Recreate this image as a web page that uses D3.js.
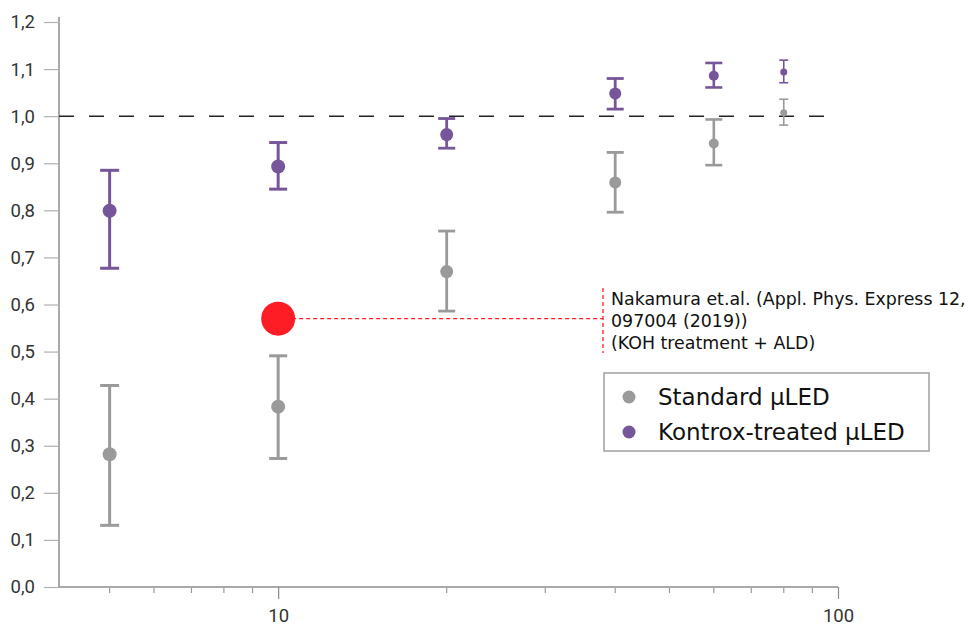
<!DOCTYPE html>
<html>
<head>
<meta charset="utf-8">
<script src="https://cdn.jsdelivr.net/npm/d3@7"></script>
<style>
  body { margin: 0; background: #fff; }
  .note, .legend-label { font-family: "DejaVu Sans", sans-serif; }
  .tick text { font-family: Roboto, sans-serif; }
</style>
</head>
<body>
<div id="container"></div>
<script>
const w = 970;
const h = 628;

// data
const xValues = [5, 10, 20, 40, 60, 80];
const standardMean = [0.282, 0.383, 0.670, 0.859, 0.942, 1.007];
const standardLow = [0.131, 0.273, 0.586, 0.796, 0.896, 0.981];
const standardHigh = [0.428, 0.491, 0.756, 0.923, 0.993, 1.036];
const kontroxMean = [0.799, 0.893, 0.961, 1.048, 1.086, 1.094];
const kontroxLow = [0.677, 0.845, 0.932, 1.015, 1.061, 1.071];
const kontroxHigh = [0.885, 0.944, 0.995, 1.080, 1.113, 1.119];
const referenceX = [10];
const referenceY = [0.570];
const yTicks = [0, 0.1, 0.2, 0.3, 0.4, 0.5, 0.6, 0.7, 0.8, 0.9, 1.0, 1.1, 1.2];
const xMajorTicks = [10, 100];
const xMinorTicks = [5, 6, 7, 8, 9, 20, 30, 40, 50, 60, 70, 80, 90];
const legendLabels = ["Standard µLED", "Kontrox-treated µLED"];
const noteLines = ["Nakamura et.al. (Appl. Phys. Express 12,", "097004 (2019))", "(KOH treatment + ALD)"];

// per-point marker styling (markers shrink to the right in the source)
const markerR = [7, 7, 6.5, 6, 5, 3.5];
const capW = [19, 18, 17, 17, 17, 9];
const barW = [3, 3, 2.8, 2.8, 2.6, 1.6];

const gray = "#9a9a9a";
const purple = "#76559a";
const red = "#ff1d25";

const x = d3.scaleLog().domain([4.06, 100]).range([59, 838]);
const y = d3.scaleLinear().domain([0, 1.2]).range([587, 22]);

const svg = d3.select("#container").append("svg")
  .attr("width", w).attr("height", h);

// y axis
const yAxis = svg.append("g")
  .attr("transform", "translate(59,0)")
  .call(d3.axisLeft(y).tickValues(yTicks).tickSize(15).tickPadding(9)
    .tickFormat(d => d3.format(".1f")(d).replace(".", ",")));
yAxis.select(".domain").attr("d", "M0,17V587").attr("stroke", "#8c8c8c").attr("stroke-width", 1.5);
yAxis.selectAll(".tick line").attr("stroke", "#b0b0b0").attr("stroke-width", 1.2);
yAxis.selectAll(".tick text").attr("font-size", 18.5).attr("fill", "#333");

// x axis
const xAxis = svg.append("g")
  .attr("transform", "translate(0,587)")
  .call(d3.axisBottom(x).tickValues(xMajorTicks).tickSize(12).tickPadding(10)
    .tickFormat(d3.format("d")));
xAxis.select(".domain").attr("d", "M59,0H838").attr("stroke", "#8c8c8c").attr("stroke-width", 1.5);
xAxis.selectAll(".tick line").attr("stroke", "#8c8c8c").attr("stroke-width", 1.2);
xAxis.selectAll(".tick text").attr("font-size", 18.5).attr("fill", "#333");
svg.append("g").selectAll("line").data(xMinorTicks).join("line")
  .attr("x1", d => x(d)).attr("x2", d => x(d))
  .attr("y1", 588).attr("y2", 593)
  .attr("stroke", "#9a9a9a").attr("stroke-width", 1.2);

// reference line at 1.0
svg.append("line")
  .attr("x1", x(4.06)).attr("x2", 838)
  .attr("y1", y(1)).attr("y2", y(1))
  .attr("stroke", "#222").attr("stroke-width", 1.5)
  .attr("stroke-dasharray", "15,15");

function drawSeries(mean, low, high, color) {
  const g = svg.append("g");
  const rows = xValues.map((xv, i) => ({ xv, m: mean[i], lo: low[i], hi: high[i], i }));
  const bars = g.selectAll("g").data(rows).join("g");
  bars.append("line")
    .attr("x1", d => x(d.xv)).attr("x2", d => x(d.xv))
    .attr("y1", d => y(d.lo)).attr("y2", d => y(d.hi))
    .attr("stroke", color).attr("stroke-width", d => barW[d.i]);
  bars.selectAll(".cap").data(d => [[d, d.lo], [d, d.hi]]).join("line")
    .attr("x1", ([d]) => x(d.xv) - capW[d.i] / 2).attr("x2", ([d]) => x(d.xv) + capW[d.i] / 2)
    .attr("y1", ([, v]) => y(v)).attr("y2", ([, v]) => y(v))
    .attr("stroke", color).attr("stroke-width", d => barW[d[0].i]);
  bars.append("circle")
    .attr("cx", d => x(d.xv)).attr("cy", d => y(d.m))
    .attr("r", d => markerR[d.i]).attr("fill", color);
}
drawSeries(standardMean, standardLow, standardHigh, gray);
drawSeries(kontroxMean, kontroxLow, kontroxHigh, purple);

// reference point and annotation
const noteX = 603;
svg.append("line")
  .attr("x1", x(referenceX[0])).attr("x2", noteX)
  .attr("y1", y(referenceY[0])).attr("y2", y(referenceY[0]))
  .attr("stroke", red).attr("stroke-width", 1.3).attr("stroke-dasharray", "4,3");
svg.append("line")
  .attr("x1", noteX).attr("x2", noteX)
  .attr("y1", 288).attr("y2", 353)
  .attr("stroke", red).attr("stroke-width", 1.3).attr("stroke-dasharray", "4,3");
svg.append("circle")
  .attr("cx", x(referenceX[0])).attr("cy", y(referenceY[0]))
  .attr("r", 17).attr("fill", red);
svg.append("g").selectAll("text").data(noteLines).join("text")
  .attr("class", "note")
  .attr("x", 611).attr("y", (d, i) => 305 + i * 22)
  .attr("font-size", 17.4).attr("fill", "#111")
  .text(d => d);

// legend
const legend = svg.append("g");
legend.append("rect")
  .attr("x", 604).attr("y", 373).attr("width", 325).attr("height", 78)
  .attr("fill", "#fff").attr("stroke", "#a0a0a0").attr("stroke-width", 1.5);
const items = legend.selectAll("g").data(legendLabels).join("g")
  .attr("transform", (d, i) => `translate(0,${397 + i * 35})`);
items.append("circle").attr("cx", 629).attr("cy", 0).attr("r", 6.5)
  .attr("fill", (d, i) => i === 0 ? gray : purple);
items.append("text").attr("class", "legend-label").attr("x", 658).attr("y", 8)
  .attr("font-size", 23).attr("fill", "#111").text(d => d);
</script>
</body>
</html>
